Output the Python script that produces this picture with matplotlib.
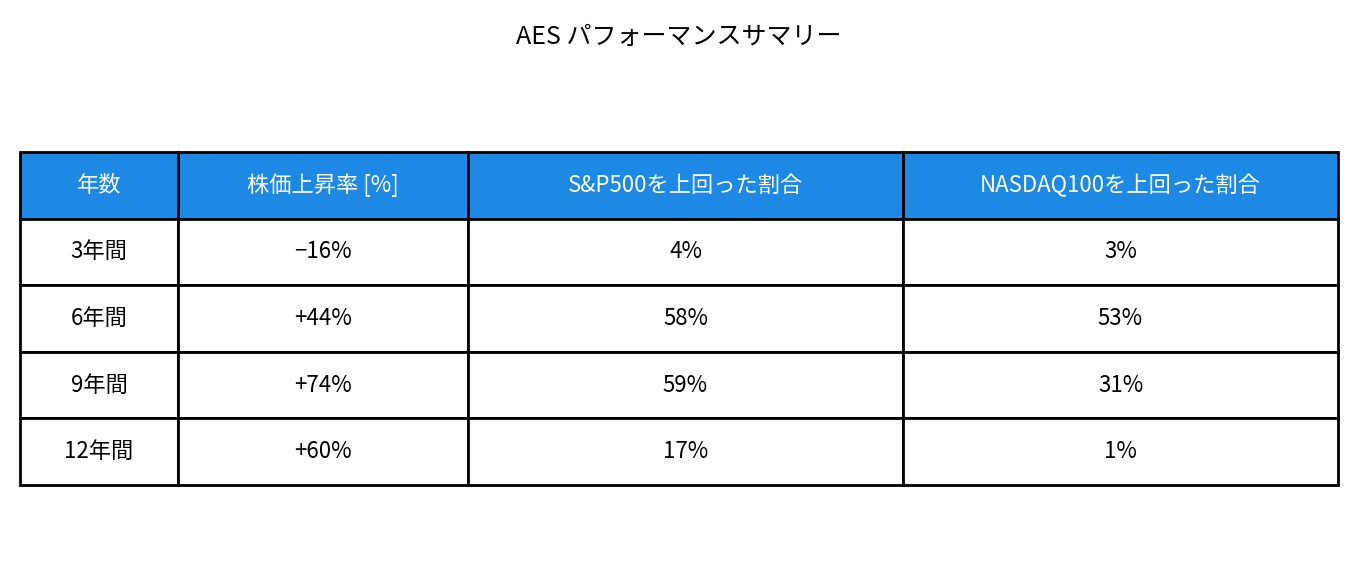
import matplotlib
matplotlib.use("Agg")
import matplotlib.pyplot as plt

plt.rcParams['font.family'] = ['Noto Sans CJK JP', 'DejaVu Sans']

title = "AES パフォーマンスサマリー"
columns = ["年数", "株価上昇率 [%]", "S&P500を上回った割合", "NASDAQ100を上回った割合"]
periods = ["3年間", "6年間", "9年間", "12年間"]
price_change = ["−16%", "+44%", "+74%", "+60%"]
beat_sp500 = ["4%", "58%", "59%", "17%"]
beat_nasdaq = ["3%", "53%", "31%", "1%"]

W, H = 1357, 569
fig = plt.figure(figsize=(W/100, H/100), dpi=100)
ax = fig.add_axes([0, 0, 1, 1])
ax.axis('off')

rows = [list(r) for r in zip(periods, price_change, beat_sp500, beat_nasdaq)]
widths = [158, 290, 435, 435]
tot = sum(widths)
tbl = ax.table(cellText=rows, colLabels=columns, cellLoc='center',
               colWidths=[w/tot for w in widths],
               bbox=[20/W, (H-485)/H, 1318/W, 333/H])
tbl.auto_set_font_size(False)
for (r, c), cell in tbl.get_celld().items():
    cell.set_linewidth(2)
    cell.set_edgecolor('black')
    cell.get_text().set_fontsize(16)
    if r == 0:
        cell.set_facecolor('#1E88E5')
        cell.get_text().set_color('white')
    else:
        cell.set_facecolor('white')

fig.text(0.5, 1 - 37/H, title, ha='center', va='center', fontsize=18)
fig.savefig("out.png", dpi=100)
